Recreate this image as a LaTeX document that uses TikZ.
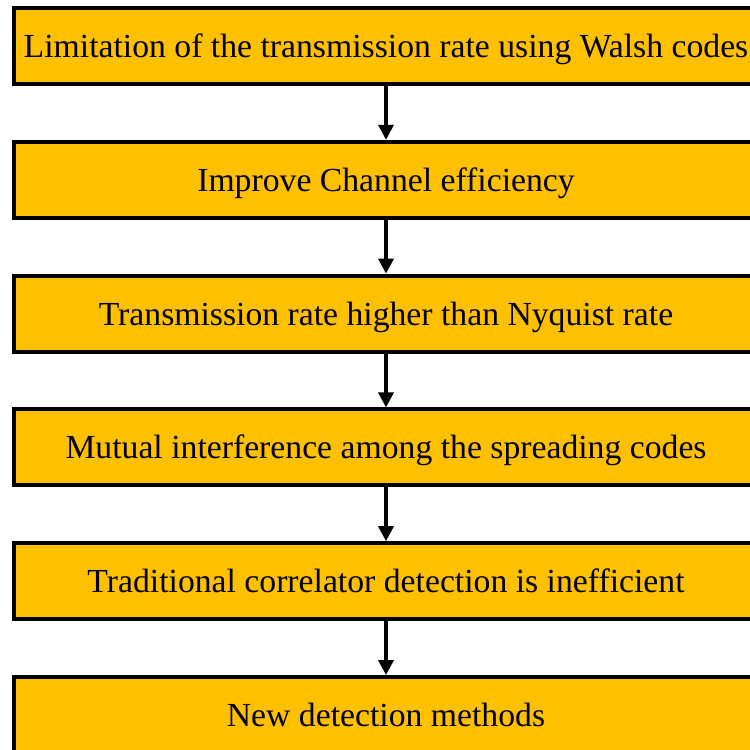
\documentclass[tikz,border=0pt]{standalone}
\usepackage{fontspec}
\setmainfont{Liberation Serif}
\usetikzlibrary{arrows.meta}
\begin{document}
\begin{tikzpicture}[x=1pt,y=-1pt,
  stepbox/.style={draw=black, line width=4pt, fill=boxgold, inner sep=0pt,
    minimum width=744pt, minimum height=76pt,
    text height=26pt, text depth=3pt,
    font=\fontsize{33.7}{40}\selectfont},
  flow/.style={line width=3.5pt, -{Triangle[length=15pt,width=15pt]}}]
\definecolor{boxgold}{HTML}{FFC000}
\useasboundingbox (0,0) rectangle (750,750);
\clip (0,0) rectangle (750,750);
\node[stepbox] (b1) at (386,46)    {Limitation of the transmission rate using Walsh codes};
\node[stepbox] (b2) at (386,179.8) {Improve Channel efficiency};
\node[stepbox] (b3) at (386,313.6) {Transmission rate higher than Nyquist rate};
\node[stepbox] (b4) at (386,447.4) {Mutual interference among the spreading codes};
\node[stepbox] (b5) at (386,581.2) {Traditional correlator detection is inefficient};
\node[stepbox] (b6) at (386,715)   {New detection methods};
\draw[flow] (b1.south) -- (b2.north);
\draw[flow] (b2.south) -- (b3.north);
\draw[flow] (b3.south) -- (b4.north);
\draw[flow] (b4.south) -- (b5.north);
\draw[flow] (b5.south) -- (b6.north);
\end{tikzpicture}
\end{document}
